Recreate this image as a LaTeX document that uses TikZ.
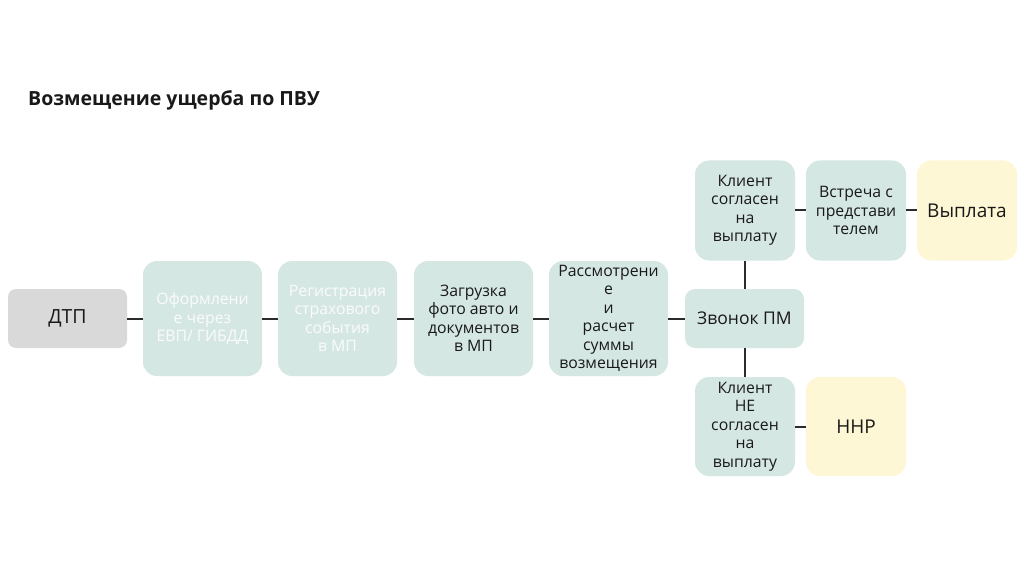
\documentclass[tikz,border=0pt]{standalone}
\usepackage{fontspec}
\setmainfont{Open Sans}
\definecolor{teal}{HTML}{D5E7E3}
\definecolor{grayb}{HTML}{D9D9D9}
\definecolor{yell}{HTML}{FEF7D6}
\definecolor{ln}{HTML}{2B2B2B}
\tikzset{
  box/.style={draw=none, rounded corners=14pt, align=center, inner sep=0pt,
    font=\fontsize{15.8}{18.5}\selectfont, text=black!90},
  wide/.style={box, fill=teal, minimum width=119pt, minimum height=115pt},
  small/.style={box, fill=teal, minimum width=100pt, minimum height=100pt},
  conn/.style={draw=ln, line width=2pt},
}
\begin{document}
\begin{tikzpicture}[x=1pt,y=-1pt]
\fill[white] (0,0) rectangle (1024,577);
\useasboundingbox (0,0) rectangle (1024,577);
\node[anchor=west, font=\fontsize{19.5}{22}\selectfont\bfseries, text=black!90, inner sep=0pt] (title) at (28,100) {Возмещение ущерба по ПВУ};
\node[box, fill=grayb, minimum width=119pt, minimum height=59pt, rounded corners=8pt, font=\fontsize{19.5}{22}\selectfont] (dtp) at (67.5,318.5) {ДТП};
\node[wide, text=white!97!gray] (b1) at (202.5,318.5) {Оформлени\\е через\\ЕВП/ ГИБДД};
\node[wide, text=white!97!gray] (b2) at (337.5,318.5) {Регистрация\\страхового\\события\\в МП};
\node[wide] (b3) at (473.5,318.5) {Загрузка\\фото авто и\\документов\\в МП};
\node[wide] (b4) at (608.5,318.5) {Рассмотрени\\е\\и\\расчет\\суммы\\возмещения};
\node[box, fill=teal, minimum width=119pt, minimum height=59pt, rounded corners=10pt, font=\fontsize{17.5}{20}\selectfont] (zv) at (744.5,318.5) {Звонок ПМ};
\node[small] (k1) at (745,210.5) {Клиент\\согласен\\на\\выплату};
\node[small] (vs) at (856,210.5) {Встреча с\\представи\\телем};
\node[small, fill=yell, font=\fontsize{19}{22}\selectfont] (vy) at (967,210.5) {Выплата};
\node[small, minimum height=99pt] (k2) at (745,426.5) {Клиент\\НЕ\\согласен\\на\\выплату};
\node[small, minimum height=99pt, fill=yell, font=\fontsize{19}{22}\selectfont] (nnr) at (856,426.5) {ННР};
\draw[conn] (dtp) -- (b1);
\draw[conn] (b1) -- (b2);
\draw[conn] (b2) -- (b3);
\draw[conn] (b3) -- (b4);
\draw[conn] (b4) -- (zv);
\draw[conn] (zv.north -| k1) -- (k1.south);
\draw[conn] (zv.south -| k2) -- (k2.north);
\draw[conn] (k1) -- (vs);
\draw[conn] (vs) -- (vy);
\draw[conn] (k2) -- (nnr);
\end{tikzpicture}
\end{document}
